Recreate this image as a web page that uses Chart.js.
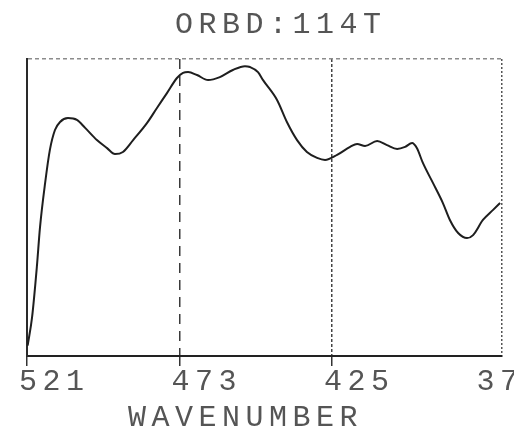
<!DOCTYPE html>
<html>
<head>
<meta charset="utf-8">
<script src="https://cdn.jsdelivr.net/npm/chart.js@4"></script>
<style>
    body { margin: 0; background: #fff; overflow: hidden; }
</style>
</head>
<body>
<canvas id="chart" width="514" height="435"></canvas>
<script>
const chartTitle = "ORBD:114T";
const axisTitle = "WAVENUMBER";

// x runs from high wavenumber on the left to low on the right
const xStart = 521;
const xEnd = 371.5;
const tickValues = [521, 473, 425, 377];
const markerLines = [473, 425];

const wavenumber = [
    520.8, 519.4, 517.9, 516.9, 515.3, 513.8, 512.2, 510.6, 508.1, 505.3,
    502.7, 499.0, 495.8, 493.3, 490.8, 487.6, 483.2, 480.1, 476.9, 473.8,
    471.9, 470.3, 467.5, 464.0, 460.3, 456.2, 452.4, 450.8, 448.3, 446.7,
    442.3, 439.2, 436.0, 432.9, 429.7, 427.2, 423.4, 419.3, 417.1, 414.6,
    410.8, 407.7, 404.5, 402.0, 399.8, 398.3, 396.4, 393.2, 390.1, 387.9,
    385.3, 382.5, 380.6, 377.5, 374.3, 372.1
];
const signal = [
    3.5, 13.1, 30.0, 43.4, 58.2, 69.4, 76.1, 78.8, 80.1, 79.5,
    76.8, 72.7, 70.0, 68.0, 68.7, 72.7, 78.5, 83.5, 88.6, 93.6,
    95.3, 95.6, 94.6, 92.9, 93.9, 96.3, 97.6, 97.3, 95.6, 92.9,
    86.2, 78.8, 72.7, 68.7, 66.7, 66.0, 67.7, 70.4, 71.4, 70.7,
    72.4, 71.0, 69.7, 70.4, 71.7, 70.0, 65.0, 58.2, 51.5, 45.8,
    41.4, 39.7, 40.7, 45.8, 49.2, 51.5
];

const points = wavenumber.map((w, i) => ({ x: w, y: signal[i] }));

const clear = 'rgba(0,0,0,0)';

function xGridColor(ctx) {
    if (!ctx.tick) return clear;
    const v = ctx.tick.value;
    if (v === 473) return '#3a3a3a';
    if (v === 425) return '#444';
    if (v === xEnd) return '#555';
    return clear;
}

function xGridDash(ctx) {
    if (!ctx.tick) return [];
    const v = ctx.tick.value;
    if (v === 473) return [10, 7];
    if (v === 425) return [3, 2];
    if (v === xEnd) return [2, 2];
    return [];
}

// text is drawn on top so the labels can sit where the plotter put them
const plotterText = {
    id: 'plotterText',
    afterDraw(chart) {
        const ctx = chart.ctx;
        const area = chart.chartArea;
        const xs = chart.scales.x;
        ctx.save();
        ctx.font = '30px "Liberation Mono"';
        ctx.letterSpacing = '5.5px';
        ctx.fillStyle = '#555';
        ctx.textAlign = 'left';
        ctx.textBaseline = 'alphabetic';
        ctx.fillText(chartTitle, area.left + 148, area.top - 26);
        tickValues.forEach(v => {
            ctx.fillText(String(v), xs.getPixelForValue(v) - 8, area.bottom + 34);
        });
        ctx.fillText(axisTitle, area.left + 101, area.bottom + 70);
        ctx.restore();
    }
};

new Chart(document.getElementById('chart'), {
    type: 'line',
    data: {
        datasets: [{
            data: points,
            borderColor: '#1e1e1e',
            borderWidth: 2,
            pointRadius: 0,
            cubicInterpolationMode: 'monotone',
            fill: false
        }]
    },
    options: {
        responsive: false,
        animation: false,
        layout: { padding: { left: 27, right: 12, top: 59, bottom: 69 } },
        plugins: { legend: { display: false }, tooltip: { enabled: false } },
        scales: {
            x: {
                type: 'linear',
                reverse: true,
                min: xEnd,
                max: xStart,
                afterBuildTicks: scale => {
                    scale.ticks = tickValues.concat([xEnd]).map(value => ({ value }));
                },
                ticks: { display: false },
                grid: {
                    color: xGridColor,
                    lineWidth: 1.5,
                    drawTicks: true,
                    tickLength: 10,
                    tickWidth: 1.5,
                    tickColor: ctx => ctx.tick && markerLines.concat([521]).includes(ctx.tick.value) ? '#333' : clear
                },
                border: { display: true, color: '#222', width: 2, dash: xGridDash }
            },
            y: {
                min: 0,
                max: 100,
                afterBuildTicks: scale => {
                    scale.ticks = [0, 100].map(value => ({ value }));
                },
                ticks: { display: false },
                grid: {
                    drawTicks: false,
                    lineWidth: 1.5,
                    color: ctx => ctx.tick && ctx.tick.value === 100 ? '#8c8c8c' : clear
                },
                border: {
                    display: true,
                    color: '#2a2a2a',
                    width: 2,
                    dash: ctx => ctx.tick && ctx.tick.value === 100 ? [4, 3] : []
                }
            }
        }
    },
    plugins: [plotterText]
});
</script>
</body>
</html>
